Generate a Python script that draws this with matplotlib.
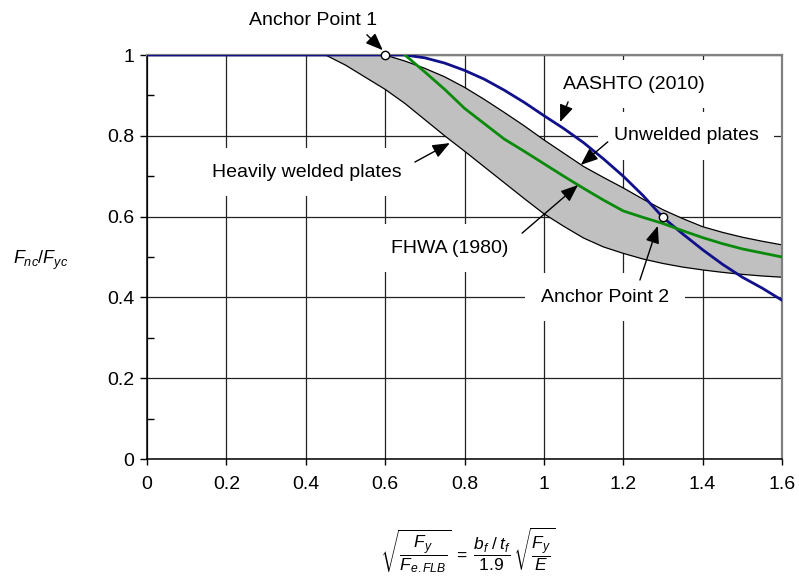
import matplotlib
matplotlib.use("Agg")
import matplotlib.pyplot as plt
from matplotlib.ticker import MultipleLocator

plt.rcParams['font.family'] = ['Liberation Sans', 'DejaVu Sans']
plt.rcParams['mathtext.fontset'] = 'custom'
plt.rcParams['mathtext.rm'] = 'Liberation Sans'
plt.rcParams['mathtext.it'] = 'Liberation Sans:italic'
plt.rcParams['mathtext.bf'] = 'Liberation Sans:bold'

# AASHTO (2010) resistance curve
aashto_x = [0.0, 0.60, 0.65, 0.70, 0.75, 0.80, 0.85, 0.90, 0.95, 1.00, 1.05, 1.10,
            1.15, 1.20, 1.25, 1.30, 1.35, 1.40, 1.45, 1.50, 1.55, 1.60]
aashto_y = [1.0, 1.0, 1.0, 0.993, 0.980, 0.962, 0.940, 0.913, 0.883, 0.850, 0.818, 0.783,
            0.743, 0.700, 0.652, 0.598, 0.557, 0.518, 0.482, 0.450, 0.423, 0.393]

# FHWA (1980) curve
fhwa_x = [0.65, 0.70, 0.75, 0.80, 0.85, 0.90, 0.95, 1.00, 1.05, 1.10, 1.15, 1.20,
          1.25, 1.30, 1.35, 1.40, 1.45, 1.50, 1.55, 1.60]
fhwa_y = [1.0, 0.958, 0.915, 0.868, 0.830, 0.792, 0.762, 0.731, 0.700, 0.670, 0.641, 0.614,
          0.598, 0.583, 0.565, 0.548, 0.533, 0.520, 0.510, 0.500]

# Test data band: unwelded plates (upper) and heavily welded plates (lower)
unwelded_x = [0.45, 0.60, 0.65, 0.70, 0.75, 0.80, 0.85, 0.90, 0.95, 1.00, 1.05, 1.10,
              1.15, 1.20, 1.25, 1.30, 1.35, 1.40, 1.45, 1.50, 1.55, 1.60]
unwelded_y = [1.0, 1.0, 0.985, 0.967, 0.946, 0.920, 0.890, 0.858, 0.825, 0.790, 0.757, 0.724,
              0.697, 0.671, 0.643, 0.617, 0.595, 0.575, 0.561, 0.549, 0.539, 0.530]
welded_x = [0.45, 0.50, 0.55, 0.60, 0.65, 0.70, 0.75, 0.80, 0.85, 0.90, 0.95, 1.00,
            1.05, 1.10, 1.15, 1.20, 1.25, 1.30, 1.35, 1.40, 1.45, 1.50, 1.55, 1.60]
welded_y = [1.0, 0.975, 0.945, 0.915, 0.880, 0.840, 0.800, 0.762, 0.723, 0.684, 0.645, 0.607,
            0.576, 0.547, 0.525, 0.509, 0.495, 0.484, 0.475, 0.468, 0.462, 0.457, 0.453, 0.450]

# Anchor points
anchor_x = [0.60, 1.30]
anchor_y = [1.0, 0.60]

x_ticks = [0, 0.2, 0.4, 0.6, 0.8, 1.0, 1.2, 1.4, 1.6]
x_ticklabels = ['0', '0.2', '0.4', '0.6', '0.8', '1', '1.2', '1.4', '1.6']
y_ticks = [0, 0.2, 0.4, 0.6, 0.8, 1.0]
y_ticklabels = ['0', '0.2', '0.4', '0.6', '0.8', '1']

FS = 14
fig = plt.figure(figsize=(7.99, 5.82), dpi=100)
ax = fig.add_axes([147 / 799, 1 - 459 / 582, 635 / 799, 404 / 582])

# shaded band between welded and unwelded plate curves
poly_x = unwelded_x + welded_x[::-1]
poly_y = unwelded_y + welded_y[::-1]
ax.fill(poly_x, poly_y, facecolor='#c0c0c0', edgecolor='none', zorder=2)
ax.plot(unwelded_x, unwelded_y, color='black', lw=0.9, zorder=2.2)
ax.plot(welded_x, welded_y, color='black', lw=0.9, zorder=2.2)

ax.plot(aashto_x, aashto_y, color='#10108a', lw=2.0, zorder=4)
ax.plot(fhwa_x, fhwa_y, color='#0a8a0a', lw=2.0, zorder=4)
ax.plot(anchor_x, anchor_y, 'o', ms=6, mfc='white', mec='black', mew=1.0,
        zorder=6, clip_on=False)

ax.set_xlim(0, 1.6)
ax.set_ylim(0, 1.0)
ax.set_xticks(x_ticks)
ax.set_xticklabels(x_ticklabels, fontsize=FS)
ax.set_yticks(y_ticks)
ax.set_yticklabels(y_ticklabels, fontsize=FS)
ax.yaxis.set_minor_locator(MultipleLocator(0.1))
ax.tick_params(axis='y', which='major', direction='out', length=5, width=1, pad=4)
ax.tick_params(axis='y', which='minor', direction='in', length=5, width=1)
ax.tick_params(axis='x', which='major', direction='out', length=4, width=1, pad=8)

ax.set_axisbelow(True)
ax.grid(True, which='major', color='#222222', lw=0.9)
for side in ['left', 'bottom']:
    ax.spines[side].set_color('black')
    ax.spines[side].set_linewidth(1.1)
for side in ['top', 'right']:
    ax.spines[side].set_color('#808080')
    ax.spines[side].set_linewidth(1.6)

box = dict(boxstyle='square,pad=0.8', facecolor='white', edgecolor='none')
labels = [
    ('AASHTO (2010)', 1.227, 0.928),
    ('Unwelded plates', 1.358, 0.800),
    ('Heavily welded plates', 0.403, 0.710),
    ('FHWA (1980)', 0.763, 0.522),
    ('Anchor Point 2', 1.154, 0.400),
]
for txt, tx, ty in labels:
    ax.text(tx, ty, txt, fontsize=FS, ha='center', va='center', bbox=box, zorder=3)
ax.text(0.418, 1.085, 'Anchor Point 1', fontsize=FS, ha='center', va='center',
        clip_on=False, zorder=3)

arrows = [
    ((0.554, 1.050), (0.594, 1.012)),
    ((1.061, 0.884), (1.041, 0.834)),
    ((1.161, 0.785), (1.093, 0.728)),
    ((0.675, 0.735), (0.763, 0.782)),
    ((0.945, 0.559), (1.086, 0.678)),
    ((1.242, 0.443), (1.287, 0.577)),
]
for tail, tip in arrows:
    ax.annotate('', xy=tip, xytext=tail, annotation_clip=False,
                arrowprops=dict(arrowstyle='-|>,head_length=0.7,head_width=0.28',
                                color='black', lw=1.0, shrinkA=0, shrinkB=0,
                                mutation_scale=15), zorder=5)

fig.text(41 / 799, 1 - 260 / 582, r'$F_{nc}/F_{yc}$', fontsize=FS - 1,
         ha='center', va='center')
fig.text(468 / 799, 1 - 550 / 582,
         r'$\sqrt{\dfrac{F_y}{F_{e.FLB}}}\;=\;\dfrac{b_f\;/\;t_f}{\mathrm{1.9}}\,\sqrt{\dfrac{F_y}{E}}$',
         fontsize=12.5, ha='center', va='center')

fig.savefig('out.png', dpi=100)
